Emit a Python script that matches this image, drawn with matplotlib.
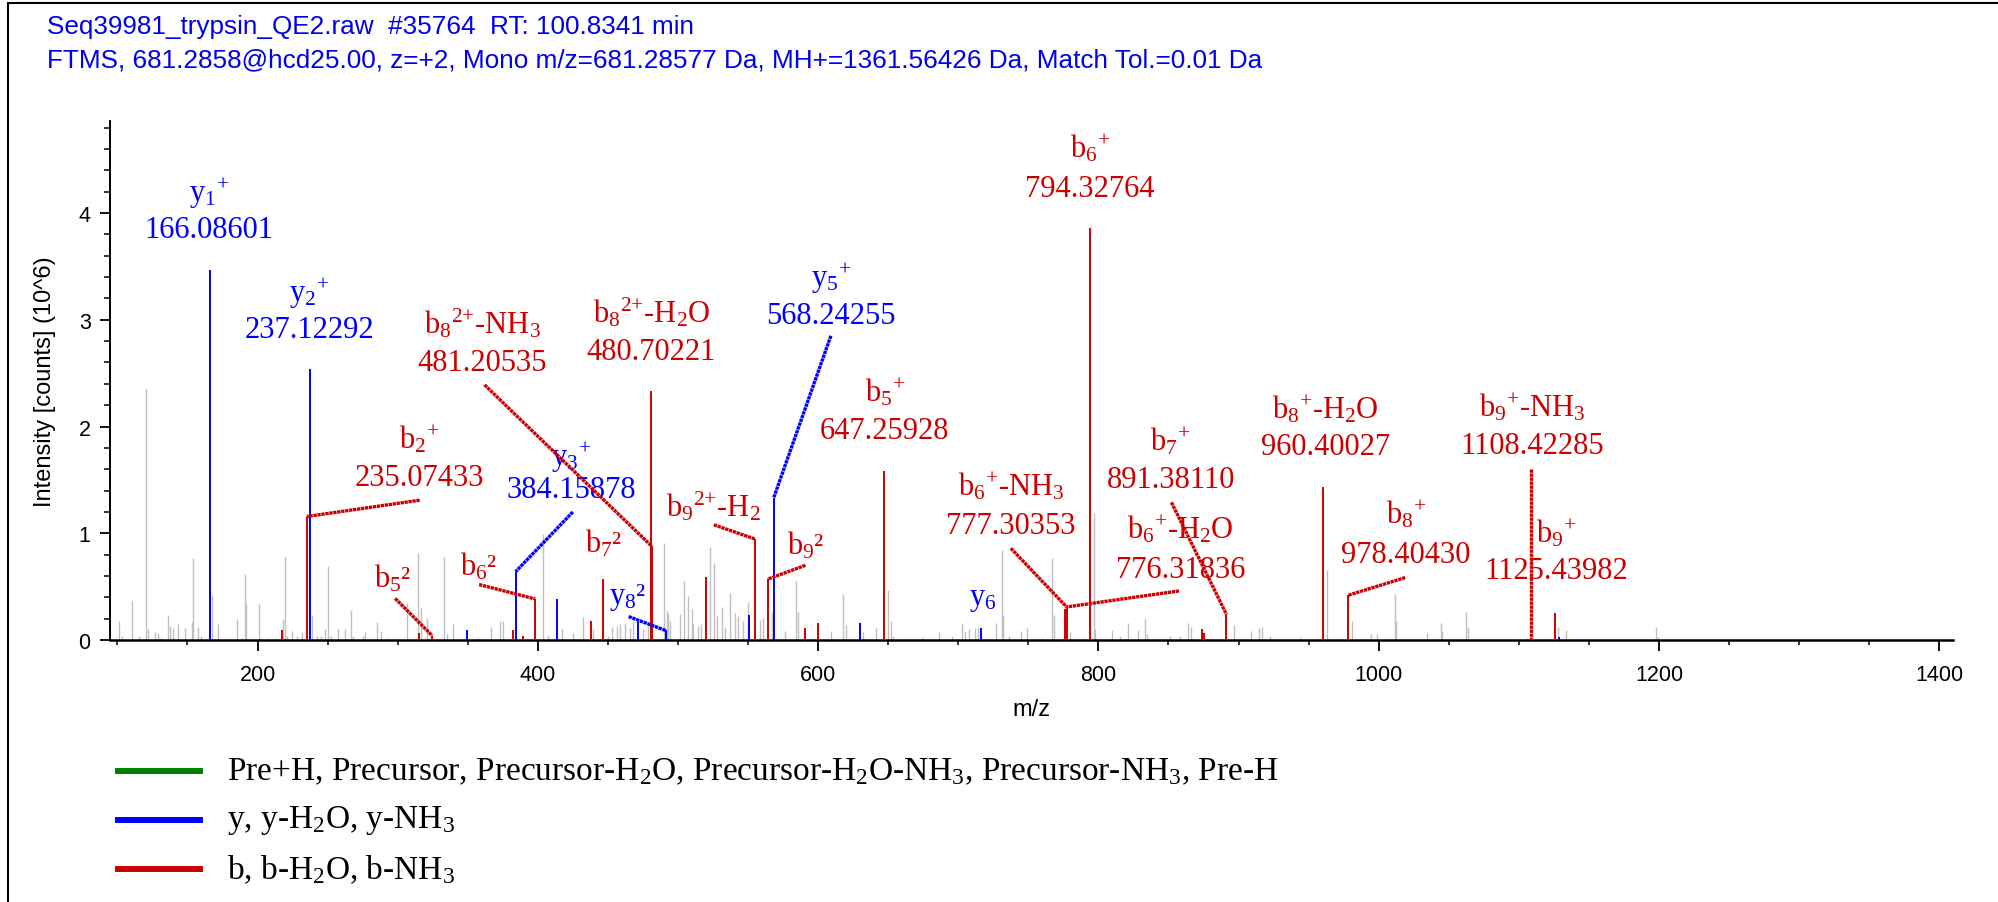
import matplotlib
matplotlib.use("Agg")
import matplotlib.pyplot as plt
from matplotlib.lines import Line2D
from matplotlib.patches import Rectangle
from matplotlib.ticker import MultipleLocator

plt.rcParams["font.family"] = ["Liberation Sans", "DejaVu Sans"]
plt.rcParams["mathtext.default"] = "regular"

RED = "#cc0000"
BLUE = "#0000ff"
GREEN = "#008000"
GREY = "#c0c0c0"
SERIF = ["Liberation Serif", "DejaVu Serif"]

# ---------------------------------------------------------------------------
# Dane widma
# ---------------------------------------------------------------------------
title_lines = [
    "Seq39981_trypsin_QE2.raw  #35764  RT: 100.8341 min",
    "FTMS, 681.2858@hcd25.00, z=+2, Mono m/z=681.28577 Da, MH+=1361.56426 Da, Match Tol.=0.01 Da",
]

# piki nieprzypisane (szare)
grey_mz = [101.3, 103.2, 110.3, 115.5, 120.5, 121.7, 127.0, 129.3, 131.2, 136.4,
           137.6, 140.0, 143.6, 148.3, 153.1, 154.3, 157.4, 159.8, 167.4, 171.7,
           185.2, 188.8, 191.2, 191.9, 200.7, 202.6, 207.4, 218.5, 219.7, 220.9,
           224.5, 228.0, 231.6, 238.7, 242.7, 245.4, 248.2, 250.2, 252.5, 257.3,
           262.5, 266.6, 268.4, 275.6, 276.8, 285.1, 288.2, 293.4, 306.5, 314.3,
           316.7, 320.8, 333.4, 335.0, 339.8, 355.2, 357.6, 366.7, 373.1, 374.8,
           403.5, 407.6, 417.1, 425.4, 432.5, 439.7, 450.4, 452.8, 456.4, 458.7,
           462.3, 465.8, 468.2, 475.3, 478.9, 490.3, 492.0, 493.2, 494.4, 501.5,
           504.6, 507.5, 509.9, 511.0, 514.1, 516.5, 522.9, 526.0, 527.7, 531.7,
           533.6, 537.2, 540.8, 543.1, 546.7, 549.8, 558.6, 561.0, 567.0, 576.4,
           584.3, 585.9, 609.3, 618.0, 620.0, 631.9, 641.2, 650.1, 652.0, 653.7,
           674.4, 686.3, 695.8, 703.0, 704.8, 707.7, 712.0, 713.9, 726.7, 731.0,
           732.2, 736.2, 744.8, 748.9, 760.0, 767.1, 768.4, 779.8, 789.3, 796.9,
           797.6, 809.9, 815.5, 821.4, 828.5, 833.3, 834.5, 851.1, 858.3, 864.2,
           866.1, 897.0, 908.9, 914.9, 916.6, 922.4, 943.9, 962.9, 981.2, 994.5,
           998.6, 1011.6, 1012.3, 1034.7, 1044.5, 1045.4, 1062.3, 1063.5, 1105.6, 1127.7,
           1133.6, 1197.6, 1199.0]
grey_int = [0.18, 0.04, 0.37, 0.04, 2.35, 0.10, 0.075, 0.07, 0.02, 0.23,
            0.13, 0.11, 0.15, 0.11, 0.17, 0.77, 0.12, 0.04, 0.42, 0.15,
            0.20, 0.02, 0.62, 0.35, 0.34, 0.02, 0.02, 0.20, 0.78, 0.04,
            0.08, 0.04, 0.075, 0.23, 0.04, 0.04, 0.10, 0.69, 0.04, 0.10,
            0.10, 0.28, 0.04, 0.04, 0.075, 0.17, 0.08, 0.02, 0.35, 0.82,
            0.30, 0.21, 0.78, 0.06, 0.15, 0.02, 0.02, 0.12, 0.18, 0.18,
            0.99, 0.05, 0.10, 0.07, 0.22, 0.10, 0.04, 0.12, 0.13, 0.15,
            0.16, 0.11, 0.18, 0.10, 0.13, 0.91, 0.27, 0.24, 0.18, 0.24,
            0.55, 0.41, 0.29, 0.15, 0.13, 0.15, 0.875, 0.72, 0.225, 0.31,
            0.12, 0.44, 0.25, 0.225, 0.18, 0.36, 0.19, 0.21, 0.26, 0.085,
            0.55, 0.26, 0.085, 0.43, 0.14, 0.075, 0.11, 0.47, 0.18, 0.04,
            0.03, 0.075, 0.04, 0.16, 0.085, 0.10, 0.11, 0.125, 0.16, 0.84,
            0.23, 0.04, 0.085, 0.11, 0.02, 0.77, 0.23, 0.075, 0.02, 1.19,
            0.10, 0.09, 0.04, 0.16, 0.09, 0.21, 0.06, 0.04, 0.04, 0.16,
            0.12, 0.14, 0.085, 0.11, 0.125, 0.04, 0.03, 0.66, 0.18, 0.06,
            0.06, 0.43, 0.18, 0.07, 0.16, 0.08, 0.26, 0.125, 0.02, 0.12,
            0.09, 0.125, 0.03]

# jony b (czerwone)
b_mz = [217.3, 235.07433, 315.3, 324.7, 382.6, 389.3, 398.1, 438.0, 446.8, 480.70221,
        481.20535, 520.1, 555.0, 563.9, 590.7, 599.8, 647.25928, 776.31836, 777.30353, 794.32764,
        874.2, 875.6, 891.38110, 960.40027, 978.40430, 1108.42285, 1125.43982]
b_int = [0.09, 1.157, 0.07, 0.04, 0.09, 0.04, 0.385, 0.18, 0.575, 2.33,
         0.88, 0.59, 0.946, 0.57, 0.11, 0.16, 1.58, 0.29, 0.31, 3.86,
         0.10, 0.07, 0.24, 1.43, 0.42, 0.02, 0.25]

# jony y (niebieskie)
y_mz = [166.08601, 237.12292, 349.8, 384.15878, 414.0, 471.8, 491.2, 550.7,
        568.24255, 630.0, 716.2, 1128.6]
y_int = [3.47, 2.535, 0.09, 0.64, 0.38, 0.17, 0.09, 0.23,
         1.33, 0.16, 0.11, 0.03]

legend_labels = [
    "Pre+H, Precursor, Precursor-H$_2$O, Precursor-H$_2$O-NH$_3$, Precursor-NH$_3$, Pre-H",
    "y, y-H$_2$O, y-NH$_3$",
    "b, b-H$_2$O, b-NH$_3$",
]
legend_colors = [GREEN, BLUE, RED]

# adnotacje: (nazwa, wartość, seria, m/z piku, x etykiety, y nazwy, y wartości, początek linii)
annotations = [
    ("y$_1$$^{+}$", "166.08601", "y", 166.08601, 165.5, 4.19, 3.85, None),
    ("y$_2$$^{+}$", "237.12292", "y", 237.12292, 237.1, 3.25, 2.91, None),
    ("b$_2$$^{+}$", "235.07433", "b", 235.07433, 315.7, 1.89, 1.52, (315.7, 1.31)),
    ("b$_8$$^{2{+}}$-NH$_3$", "481.20535", "b", 481.20535, 360.3, 2.97, 2.60, (362.0, 2.39)),
    ("b$_8$$^{2{+}}$-H$_2$O", "480.70221", "b", 480.70221, 481.0, 3.08, 2.70, None),
    ("y$_3$$^{+}$", "384.15878", "y", 384.15878, 424.0, 1.715, 1.41, (425.0, 1.20)),
    ("b$_5$²", None, "b", 324.7, 296.7, 0.585, None, (298.2, 0.39)),
    ("b$_6$²", None, "b", 398.1, 357.8, 0.695, None, (358.1, 0.52)),
    ("b$_7$²", None, "b", 446.8, 447.0, 0.91, None, None),
    ("y$_8$²", None, "y", 491.2, 463.8, 0.41, None, (464.8, 0.22)),
    ("b$_9$$^{2{+}}$-H$_2$", None, "b", 555.0, 525.6, 1.26, None, (525.6, 1.08)),
    ("b$_9$²", None, "b", 563.9, 591.0, 0.895, None, (591.0, 0.70)),
    ("y$_5$$^{+}$", "568.24255", "y", 568.24255, 609.1, 3.39, 3.04, (609.1, 2.85)),
    ("b$_5$$^{+}$", "647.25928", "b", 647.25928, 647.6, 2.33, 1.96, None),
    ("b$_6$$^{+}$", "794.32764", "b", 794.32764, 794.0, 4.61, 4.23, None),
    ("b$_6$$^{+}$-NH$_3$", "777.30353", "b", 777.30353, 737.5, 1.45, 1.07, (737.5, 0.86)),
    ("b$_7$$^{+}$", "891.38110", "b", 891.38110, 851.5, 1.87, 1.50, (852.1, 1.29)),
    ("b$_6$$^{+}$-H$_2$O", "776.31836", "b", 777.30353, 858.5, 1.04, 0.66, (857.5, 0.46)),
    ("y$_6$", None, "y", 716.2, 717.4, 0.39, None, None),
    ("b$_8$$^{+}$-H$_2$O", "960.40027", "b", 960.40027, 962.2, 2.17, 1.81, None),
    ("b$_8$$^{+}$", "978.40430", "b", 978.40430, 1019.6, 1.18, 0.80, (1018.9, 0.585)),
    ("b$_9$$^{+}$-NH$_3$", "1108.42285", "b", 1108.42285, 1109.3, 2.19, 1.82, (1108.42285, 1.60)),
    ("b$_9$$^{+}$", "1125.43982", "b", 1125.43982, 1126.6, 1.01, 0.65, None),
]

series = {"b": (b_mz, b_int, RED), "y": (y_mz, y_int, BLUE)}


def peak_top(kind, mz):
    """Zwraca (m/z, intensywność) najbliższego piku z danej serii."""
    xs, ys, _ = series[kind]
    i = min(range(len(xs)), key=lambda k: abs(xs[k] - mz))
    return xs[i], ys[i]


# ---------------------------------------------------------------------------
# Rysunek
# ---------------------------------------------------------------------------
fig = plt.figure(figsize=(19.98, 9.03), dpi=100)
ax = fig.add_axes([0.0551, 0.2901, 0.9224, 0.5748])

ax.vlines(grey_mz, 0, grey_int, color=GREY, lw=1.0, zorder=1)
ax.vlines(y_mz, 0, y_int, color=BLUE, lw=1.4, zorder=3)
ax.vlines(b_mz, 0, b_int, color=RED, lw=1.4, zorder=3)

for name, value, kind, pmz, lx, ny, vy, start in annotations:
    color = series[kind][2]
    ax.text(lx, ny, name, ha="center", va="center", fontsize=22,
            family=SERIF, color=color, zorder=5)
    if value is not None:
        ax.text(lx, vy, value, ha="center", va="center", fontsize=22,
                family=SERIF, color=color, zorder=5)
    if start is not None:
        px, py = peak_top(kind, pmz)
        ax.plot([start[0], px], [start[1], py], color=color, lw=2.4,
                ls=(0, (1.0, 0.2)), dash_capstyle="butt", zorder=6)

ax.set_xlim(94.8, 1409.8)
ax.set_ylim(0, 4.862)
ax.xaxis.set_major_locator(MultipleLocator(200))
ax.xaxis.set_minor_locator(MultipleLocator(50))
ax.yaxis.set_major_locator(MultipleLocator(1))
ax.yaxis.set_minor_locator(MultipleLocator(0.2))

for side in ("top", "right"):
    ax.spines[side].set_visible(False)
ax.spines["left"].set_linewidth(1.4)
ax.spines["bottom"].set_linewidth(1.8)

ax.tick_params(axis="x", which="major", length=8, width=1.3, labelsize=15.5, pad=9)
ax.tick_params(axis="x", which="minor", length=3.6, width=1.1)
ax.tick_params(axis="y", which="major", length=7, width=1.3, labelsize=15.5, pad=7)
ax.tick_params(axis="y", which="minor", length=4.3, width=1.1)

ax.set_xlabel("m/z", fontsize=17)
ax.set_ylabel("Intensity [counts] (10^6)", fontsize=17)
ax.xaxis.set_label_coords(0.5, -0.112)
ax.yaxis.set_label_coords(-0.0295, 0.5)

# nagłówek
fig.text(47 / 1998, 1 - 27 / 903, title_lines[0], ha="left", va="center",
         fontsize=18.8, color="#0000ee")
fig.text(47 / 1998, 1 - 60.5 / 903, title_lines[1], ha="left", va="center",
         fontsize=18.8, color="#0000ee")

# legenda
for i, (lab, col) in enumerate(zip(legend_labels, legend_colors)):
    yy = 1 - (772 + 49 * i) / 903
    fig.add_artist(Line2D([118 / 1998, 200 / 1998], [yy, yy], lw=4.3, color=col))
    fig.text(227 / 1998, yy, lab, ha="left", va="center", fontsize=24,
             family=SERIF, color="black")

# ramka
fig.add_artist(Rectangle((8 / 1998, -0.1), 1.2, 1.1 - 4 / 903, fill=False,
                         lw=1.5, edgecolor="black", transform=fig.transFigure))

fig.savefig("out.png", dpi=100)
plt.close(fig)
